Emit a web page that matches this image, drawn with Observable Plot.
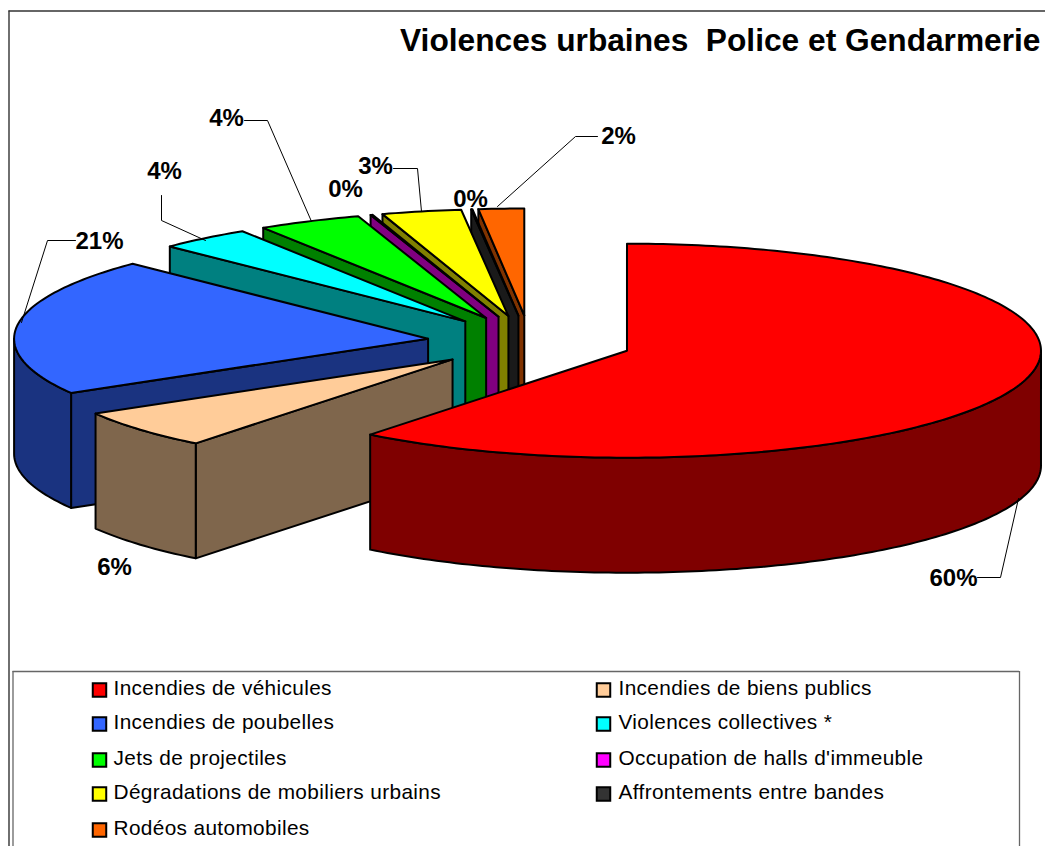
<!DOCTYPE html>
<html><head><meta charset="utf-8">
<script src="https://cdn.jsdelivr.net/npm/d3@7"></script>
<script src="https://cdn.jsdelivr.net/npm/@observablehq/plot@0.6"></script>
<style>
html,body{margin:0;padding:0;background:#fff;overflow:hidden}
svg text{white-space:pre}
g[font-size="20.8"]{letter-spacing:.36px}
</style></head><body><div id="chart"></div>
<script>
// ---- data ----
const categories = ["Incendies de véhicules","Incendies de biens publics","Incendies de poubelles","Violences collectives *","Jets de projectiles","Occupation de halls d'immeuble","Dégradations de mobiliers urbains","Affrontements entre bandes","Rodéos automobiles"];
const shares = [60.65, 5.9, 20.8, 3.6, 4.05, 0.08, 3.1, 0.05, 1.77];
const shareLabels = ["60%","6%","21%","4%","4%","0%","3%","0%","2%"];
const topColors = ["#FF0000","#FFCC99","#3366FF","#00FFFF","#00FF00","#FF00FF","#FFFF00","#333333","#FF6600"];
const wallColors = ["#7F0000","#7F664C","#1A3380","#008080","#008000","#800080","#808000","#1A1A1A","#803300"];
const title = "Violences urbaines  Police et Gendarmerie";

// ---- layout of the exploded 3D pie ----
const W = 1045, H = 846;
const pie = {cx: 529.5, cy: 341.5, rx: 414, ry: 107, depth: 115, explode: 0.248};
const labelAt = [[953,578],[114,567],[99,241],[164,171],[226,118],[345,189],[375,166],[470,199],[618,136]];
const leaderPaths = [
  [[977,577],[1000,577],[1018,498]],
  [[75,240],[47,240],[21,322]],
  [[161,195],[161,220],[205,240]],
  [[244,120],[267,120],[311,221]],
  [[393,168],[417,168],[421,211]],
  [[597,136],[575,136],[497,206]]
];
const legendRowY = [688, 722, 758, 792, 828];

const total = d3.sum(shares);
const rad = d => d * Math.PI / 180;
const rimPt = (c, t) => [c[0] + pie.rx * Math.sin(t), c[1] - pie.ry * Math.cos(t)];
const faces = [];
let id = 0;
function face(pts, key) {
  id++;
  [...pts, pts[0]].forEach(p => faces.push({id, key, x: p[0], y: p[1]}));
}
let acc = 0;
const slices = shares.map((s, i) => {
  const a0 = acc / total * 2 * Math.PI; acc += s;
  const a1 = acc / total * 2 * Math.PI;
  const m = (a0 + a1) / 2;
  const c = [pie.cx + pie.explode * pie.rx * Math.sin(m), pie.cy - pie.explode * pie.ry * Math.cos(m)];
  return {i, a0, a1, c};
});
const arc = (c, a0, a1) => {
  const n = Math.max(2, Math.ceil((a1 - a0) / rad(1)));
  return d3.range(n + 1).map(k => rimPt(c, a0 + (a1 - a0) * k / n));
};
const down = p => [p[0], p[1] + pie.depth];
// painter's order: back slices first, the big front slice last
[...slices].reverse().forEach(({i, a0, a1, c}) => {
  const wk = "w" + i, tk = "t" + i;
  if (a0 > Math.PI) {
    const r = rimPt(c, a0);
    face([c, r, down(r), down(c)], wk);
  }
  const o0 = Math.max(a0, Math.PI / 2), o1 = Math.min(a1, 1.5 * Math.PI);
  if (o1 > o0) {
    const rim = arc(c, o0, o1);
    face([...rim, ...rim.slice().reverse().map(down)], wk);
  }
  face([c, ...arc(c, a0, a1)], tk);
});

const leaders = leaderPaths.flatMap((p, i) => p.map(q => ({i, x: q[0], y: q[1]})));
const labels = shareLabels.map((text, i) => ({text, x: labelAt[i][0], y: labelAt[i][1]}));
const legend = categories.map((name, i) => ({
  name, key: "t" + i,
  x: i % 2 ? 618 : 113,
  sx: i % 2 ? 603 : 99,
  y: legendRowY[Math.floor(i / 2)],
  sy: legendRowY[Math.floor(i / 2)] + 1.6
}));

const chart = Plot.plot({
  width: W, height: H,
  margin: 0,
  x: {domain: [0, W], range: [0, W], axis: null},
  y: {domain: [0, H], range: [0, H], axis: null},
  color: {
    type: "ordinal",
    domain: [...topColors.map((_, i) => "t" + i), ...wallColors.map((_, i) => "w" + i)],
    range: [...topColors, ...wallColors]
  },
  style: {background: "#fff", overflow: "hidden"},
  marks: [
    // frame of the chart and legend box
    Plot.ruleX([8.5], {y1: 10.5, y2: H, stroke: "#333", strokeWidth: 1.4}),
    Plot.ruleY([10.5], {x1: 8.5, x2: W, stroke: "#333", strokeWidth: 1.4}),
    Plot.ruleX([12.5], {y1: 671, y2: H, stroke: "#666", strokeWidth: 1.3}),
    Plot.ruleX([1019], {y1: 671, y2: H, stroke: "#666", strokeWidth: 1.3}),
    Plot.ruleY([671], {x1: 12.5, x2: 1019, stroke: "#666", strokeWidth: 1.3}),
    // pie
    Plot.line(faces, {x: "x", y: "y", z: "id", fill: "key", stroke: "#000", strokeWidth: 2, curve: "linear"}),
    // leaders
    Plot.line(leaders, {x: "x", y: "y", z: "i", stroke: "#000", strokeWidth: 1}),
    // share labels
    Plot.text(labels, {x: "x", y: "y", text: "text", fontFamily: "Liberation Sans", fontWeight: "bold", fontSize: 24, fill: "#000"}),
    // title
    Plot.text([title], {x: [1040], y: [40], text: d => d, textAnchor: "end", fontFamily: "Liberation Sans", fontWeight: "bold", fontSize: 31.7, fill: "#000"}),
    // legend
    Plot.dot(legend, {x: "sx", y: "sy", symbol: "square", r: 7.6, fill: "key", stroke: "#000", strokeWidth: 2}),
    Plot.text(legend, {x: "x", y: "y", text: "name", textAnchor: "start", fontFamily: "Liberation Sans", fontSize: 20.8, fill: "#000"})
  ]
});
document.getElementById("chart").append(chart);
</script></body></html>
